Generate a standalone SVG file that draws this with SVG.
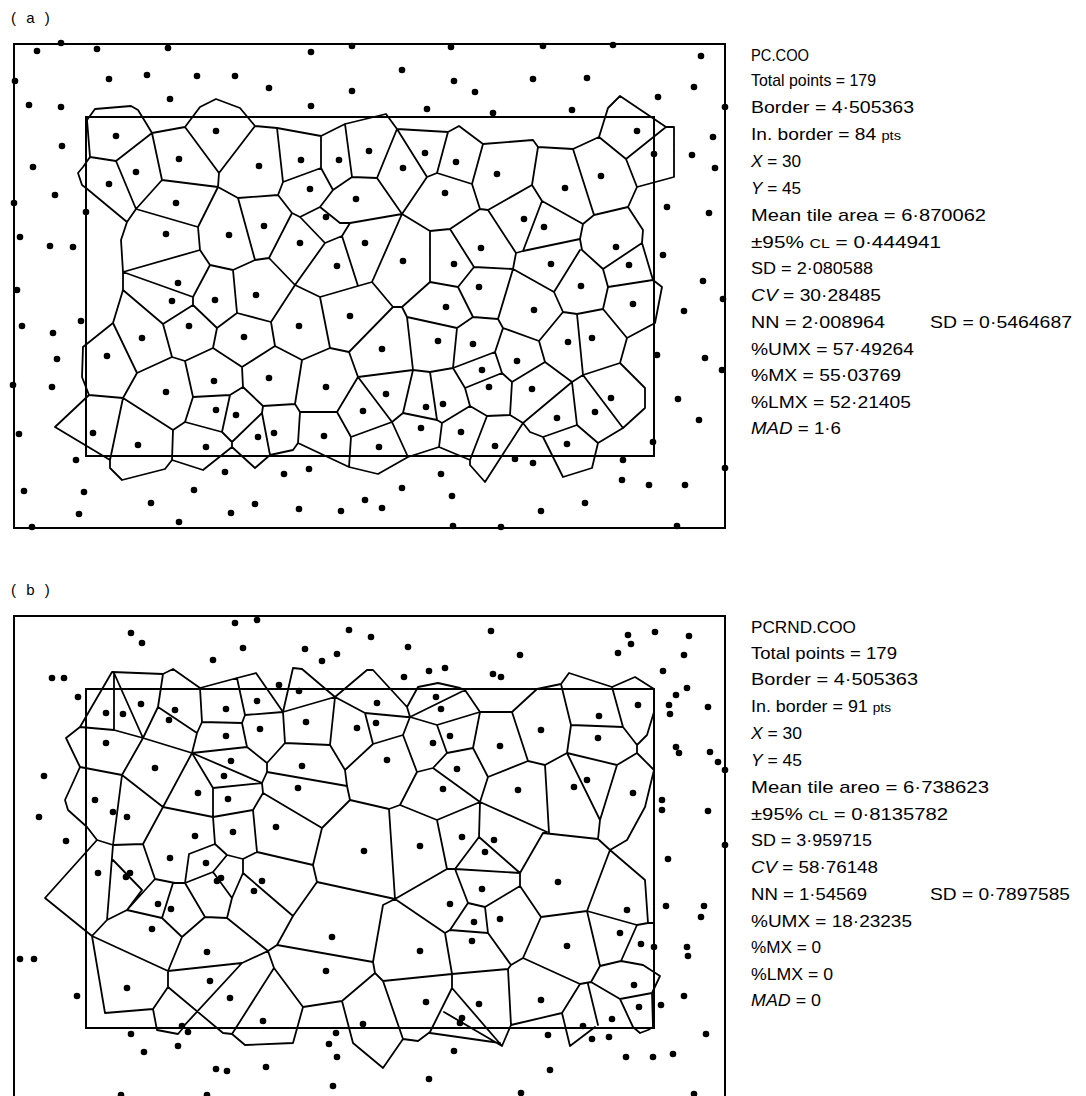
<svg xmlns="http://www.w3.org/2000/svg" width="1086" height="1096" viewBox="0 0 1086 1096">
<style>
.frame{fill:none;stroke:#000;stroke-width:2}
.edge{fill:none;stroke:#000;stroke-width:1.8;stroke-linejoin:round;stroke-linecap:round}
.p{fill:#000}
.t{font-family:"Liberation Sans",Arial,sans-serif;font-size:17px;fill:#000}
.i{font-style:italic}
.s{font-size:13px}
.lab{font-family:"Liberation Sans",Arial,sans-serif;font-size:15px;fill:#000}
</style>
<rect width="1086" height="1096" fill="#fff"/>

<g id="panel-a">
<text class="lab" x="11" y="23" letter-spacing="3">( a )</text>
<g id="a-frame">
<rect class="frame" x="14" y="44" width="711" height="484"/>
<rect class="frame" x="86" y="117" width="568" height="339"/>
</g>
<g id="a-tiles">
<path class="edge" d="M90,157 L87,120 L95,109 L131,106 L138,110 L146,123 L152,133 L185,127 L200,107 L216,99 L240,108 L255,126 L277,128 L321,136 L345,124 L386,114 L397,129 L448,132 L459,126 L483,144 L533,140 L538,147 L573,149 L599,137 L608,108 L620,96 L666,127 L674,127 L674,177 L637,187
M599,137 L626,159 L666,127
M626,159 L637,187 L628,207 L594,215 L573,149
M594,215 L583,224 L542,201 L532,185 L538,147
M532,185 L488,210 L480,209 L472,184 L483,144
M472,184 L437,173 L448,132
M437,173 L427,177 L397,129 L377,178 L402,214 L427,177
M402,214 L430,231 L450,229 L480,209
M450,229 L474,267 L513,269 L516,253 L488,210
M516,253 L523,251 L542,201
M523,251 L580,239 L583,224
M580,239 L582,250 L603,269 L642,243 L643,230 L628,207
M642,243 L653,280 L662,287 L655,323 L627,338 L603,309 L608,287 L653,280
M603,269 L608,287
M345,124 L352,177 L377,178
M352,177 L333,190 L321,168 L321,136
M333,190 L320,207 L300,217 L292,213
M320,207 L340,223 L350,223 L402,214
M350,223 L342,236 L325,243 L300,217
M342,236 L358,286 L372,282 L402,214
M372,282 L393,307 L349,352
M320,297 L358,286
M325,243 L295,285 L320,297 L330,348
M430,231 L430,282 L402,307 L393,307
M430,282 L458,287 L474,267
M458,287 L473,317 L457,328 L407,317 L402,307
M473,317 L498,319 L513,269
M513,269 L554,292 L580,250
M554,292 L563,312 L539,341 L503,328 L498,319
M563,312 L577,314 L603,309
M577,314 L583,375 L620,363 L627,338
M620,363 L645,388 L645,408 L623,428 L583,375
M583,375 L572,382 L545,362 L539,341
M545,362 L512,382 L502,373 L495,352 L503,328
M495,352 L453,368 L457,328
M502,373 L465,388 L453,368
M453,368 L430,372 L413,370 L407,317
M430,372 L437,420 L442,423 L470,406 L465,388
M470,406 L487,416 L510,415 L512,382
M510,415 L523,423 L572,382 L577,425 L543,437 L530,432 L523,423
M577,425 L598,443 L623,428
M598,443 L592,468 L563,477 L543,437
M523,423 L485,482 L470,465 L470,460 L487,416
M470,460 L439,447 L442,423
M437,420 L403,413 L413,370 L358,377 L349,352
M403,413 L392,422 L358,377 L337,412
M392,422 L351,437 L337,412
M392,422 L408,457 L439,447
M408,457 L378,474 L349,467 L351,437
M349,467 L298,443
M90,157 L116,161 L152,133 L162,180 L136,209 L116,161
M185,127 L219,173 L255,126
M219,173 L218,187 L162,180
M218,187 L238,198 L278,195 L283,182 L321,168
M277,128 L283,182
M278,195 L292,213 L269,258 L255,260 L238,198
M218,187 L198,227 L136,209 L127,222 L86,188
M90,157 L83,167 L78,173 L82,185 L86,188
M198,227 L200,250 L210,265 L233,270 L255,260
M269,258 L295,285
M127,222 L121,240 L123,272 L200,250
M123,272 L193,297 L210,265
M233,270 L237,313
M123,272 L123,290 L113,323 L83,347 L82,377 L89,395 L123,398 L137,373 L113,323
M123,290 L163,324 L193,305 L193,297
M193,305 L217,328 L237,313 L271,322 L295,285
M163,324 L172,357 L137,373
M172,357 L185,361 L213,348 L217,328
M213,348 L242,367 L275,346 L271,322
M275,346 L302,360 L330,348 L349,352
M302,360 L295,404 L263,406 L243,387 L242,367
M243,387 L230,395 L193,397 L185,361
M295,404 L300,412 L337,412
M300,412 L298,443 L293,450 L270,455 L262,413 L263,406
M230,395 L222,432 L185,422 L193,397
M222,432 L232,442 L262,413
M232,442 L232,447 L255,468 L270,455
M232,447 L203,470 L172,460 L173,430 L185,422
M173,430 L123,398 L110,460 L55,427 L89,395
M110,460 L110,468 L122,480 L165,469 L172,460"/>
</g>
<g id="a-points">
<circle class="p" r="3.3" cx="37" cy="51"/><circle class="p" r="3.3" cx="61" cy="43"/><circle class="p" r="3.3" cx="97" cy="49"/><circle class="p" r="3.3" cx="168" cy="48"/><circle class="p" r="3.3" cx="311" cy="52"/><circle class="p" r="3.3" cx="352" cy="46"/><circle class="p" r="3.3" cx="451" cy="47"/><circle class="p" r="3.3" cx="543" cy="46"/><circle class="p" r="3.3" cx="613" cy="45"/><circle class="p" r="3.3" cx="701" cy="56"/>
<circle class="p" r="3.3" cx="15" cy="81"/><circle class="p" r="3.3" cx="109" cy="79"/><circle class="p" r="3.3" cx="147" cy="75"/><circle class="p" r="3.3" cx="197" cy="76"/><circle class="p" r="3.3" cx="235" cy="76"/><circle class="p" r="3.3" cx="269" cy="88"/><circle class="p" r="3.3" cx="352" cy="91"/><circle class="p" r="3.3" cx="402" cy="70"/><circle class="p" r="3.3" cx="454" cy="81"/><circle class="p" r="3.3" cx="533" cy="79"/><circle class="p" r="3.3" cx="587" cy="78"/><circle class="p" r="3.3" cx="475" cy="92"/><circle class="p" r="3.3" cx="694" cy="87"/>
<circle class="p" r="3.3" cx="29" cy="105"/><circle class="p" r="3.3" cx="61" cy="107"/><circle class="p" r="3.3" cx="170" cy="99"/><circle class="p" r="3.3" cx="311" cy="106"/><circle class="p" r="3.3" cx="427" cy="109"/><circle class="p" r="3.3" cx="493" cy="113"/><circle class="p" r="3.3" cx="572" cy="110"/><circle class="p" r="3.3" cx="658" cy="97"/><circle class="p" r="3.3" cx="725" cy="107"/>
<circle class="p" r="3.3" cx="62" cy="146"/><circle class="p" r="3.3" cx="33" cy="167"/><circle class="p" r="3.3" cx="55" cy="195"/><circle class="p" r="3.3" cx="14" cy="203"/><circle class="p" r="3.3" cx="86" cy="212"/><circle class="p" r="3.3" cx="20" cy="237"/><circle class="p" r="3.3" cx="50" cy="246"/><circle class="p" r="3.3" cx="73" cy="247"/>
<circle class="p" r="3.3" cx="692" cy="155"/><circle class="p" r="3.3" cx="713" cy="137"/><circle class="p" r="3.3" cx="715" cy="168"/><circle class="p" r="3.3" cx="667" cy="207"/><circle class="p" r="3.3" cx="709" cy="213"/><circle class="p" r="3.3" cx="663" cy="255"/><circle class="p" r="3.3" cx="703" cy="281"/><circle class="p" r="3.3" cx="723" cy="299"/><circle class="p" r="3.3" cx="722" cy="370"/><circle class="p" r="3.3" cx="725" cy="468"/>
<circle class="p" r="3.3" cx="17" cy="290"/><circle class="p" r="3.3" cx="22" cy="326"/><circle class="p" r="3.3" cx="53" cy="333"/><circle class="p" r="3.3" cx="81" cy="321"/><circle class="p" r="3.3" cx="57" cy="359"/><circle class="p" r="3.3" cx="13" cy="385"/><circle class="p" r="3.3" cx="52" cy="387"/><circle class="p" r="3.3" cx="19" cy="434"/><circle class="p" r="3.3" cx="76" cy="460"/><circle class="p" r="3.3" cx="24" cy="491"/><circle class="p" r="3.3" cx="84" cy="492"/><circle class="p" r="3.3" cx="79" cy="514"/><circle class="p" r="3.3" cx="32" cy="527"/><circle class="p" r="3.3" cx="151" cy="503"/><circle class="p" r="3.3" cx="179" cy="522"/><circle class="p" r="3.3" cx="194" cy="490"/><circle class="p" r="3.3" cx="225" cy="472"/><circle class="p" r="3.3" cx="231" cy="513"/><circle class="p" r="3.3" cx="255" cy="504"/><circle class="p" r="3.3" cx="284" cy="474"/><circle class="p" r="3.3" cx="309" cy="469"/><circle class="p" r="3.3" cx="299" cy="509"/><circle class="p" r="3.3" cx="341" cy="511"/>
<circle class="p" r="3.3" cx="684" cy="311"/><circle class="p" r="3.3" cx="705" cy="358"/><circle class="p" r="3.3" cx="657" cy="355"/><circle class="p" r="3.3" cx="678" cy="399"/><circle class="p" r="3.3" cx="699" cy="420"/><circle class="p" r="3.3" cx="653" cy="442"/><circle class="p" r="3.3" cx="515" cy="459"/><circle class="p" r="3.3" cx="533" cy="463"/><circle class="p" r="3.3" cx="623" cy="460"/><circle class="p" r="3.3" cx="441" cy="474"/><circle class="p" r="3.3" cx="402" cy="488"/><circle class="p" r="3.3" cx="365" cy="500"/><circle class="p" r="3.3" cx="382" cy="508"/><circle class="p" r="3.3" cx="452" cy="496"/><circle class="p" r="3.3" cx="622" cy="480"/><circle class="p" r="3.3" cx="649" cy="485"/><circle class="p" r="3.3" cx="685" cy="485"/><circle class="p" r="3.3" cx="585" cy="503"/><circle class="p" r="3.3" cx="541" cy="511"/><circle class="p" r="3.3" cx="453" cy="526"/><circle class="p" r="3.3" cx="501" cy="527"/><circle class="p" r="3.3" cx="677" cy="526"/>
<circle class="p" r="3.3" cx="116" cy="136"/><circle class="p" r="3.3" cx="216" cy="131"/><circle class="p" r="3.3" cx="179" cy="159"/><circle class="p" r="3.3" cx="136" cy="172"/><circle class="p" r="3.3" cx="259" cy="166"/><circle class="p" r="3.3" cx="301" cy="160"/><circle class="p" r="3.3" cx="339" cy="160"/><circle class="p" r="3.3" cx="109" cy="184"/><circle class="p" r="3.3" cx="176" cy="203"/><circle class="p" r="3.3" cx="310" cy="189"/><circle class="p" r="3.3" cx="356" cy="199"/><circle class="p" r="3.3" cx="326" cy="217"/><circle class="p" r="3.3" cx="264" cy="226"/><circle class="p" r="3.3" cx="229" cy="235"/><circle class="p" r="3.3" cx="166" cy="234"/><circle class="p" r="3.3" cx="300" cy="243"/><circle class="p" r="3.3" cx="337" cy="266"/><circle class="p" r="3.3" cx="178" cy="283"/>
<circle class="p" r="3.3" cx="369" cy="151"/><circle class="p" r="3.3" cx="425" cy="153"/><circle class="p" r="3.3" cx="456" cy="162"/><circle class="p" r="3.3" cx="497" cy="174"/><circle class="p" r="3.3" cx="403" cy="168"/><circle class="p" r="3.3" cx="445" cy="193"/><circle class="p" r="3.3" cx="565" cy="188"/><circle class="p" r="3.3" cx="601" cy="176"/><circle class="p" r="3.3" cx="637" cy="131"/><circle class="p" r="3.3" cx="654" cy="154"/><circle class="p" r="3.3" cx="524" cy="219"/><circle class="p" r="3.3" cx="544" cy="227"/><circle class="p" r="3.3" cx="365" cy="243"/><circle class="p" r="3.3" cx="403" cy="261"/><circle class="p" r="3.3" cx="454" cy="264"/><circle class="p" r="3.3" cx="481" cy="248"/><circle class="p" r="3.3" cx="551" cy="264"/><circle class="p" r="3.3" cx="616" cy="247"/><circle class="p" r="3.3" cx="629" cy="265"/><circle class="p" r="3.3" cx="479" cy="287"/><circle class="p" r="3.3" cx="581" cy="286"/>
<circle class="p" r="3.3" cx="172" cy="301"/><circle class="p" r="3.3" cx="215" cy="300"/><circle class="p" r="3.3" cx="256" cy="295"/><circle class="p" r="3.3" cx="350" cy="316"/><circle class="p" r="3.3" cx="189" cy="326"/><circle class="p" r="3.3" cx="299" cy="326"/><circle class="p" r="3.3" cx="142" cy="338"/><circle class="p" r="3.3" cx="244" cy="337"/><circle class="p" r="3.3" cx="107" cy="356"/><circle class="p" r="3.3" cx="214" cy="381"/><circle class="p" r="3.3" cx="269" cy="378"/><circle class="p" r="3.3" cx="326" cy="387"/><circle class="p" r="3.3" cx="166" cy="392"/><circle class="p" r="3.3" cx="216" cy="410"/><circle class="p" r="3.3" cx="236" cy="415"/><circle class="p" r="3.3" cx="93" cy="433"/><circle class="p" r="3.3" cx="138" cy="445"/><circle class="p" r="3.3" cx="206" cy="447"/><circle class="p" r="3.3" cx="258" cy="437"/><circle class="p" r="3.3" cx="274" cy="433"/><circle class="p" r="3.3" cx="324" cy="436"/>
<circle class="p" r="3.3" cx="446" cy="307"/><circle class="p" r="3.3" cx="534" cy="310"/><circle class="p" r="3.3" cx="633" cy="304"/><circle class="p" r="3.3" cx="382" cy="349"/><circle class="p" r="3.3" cx="438" cy="341"/><circle class="p" r="3.3" cx="473" cy="344"/><circle class="p" r="3.3" cx="568" cy="342"/><circle class="p" r="3.3" cx="592" cy="338"/><circle class="p" r="3.3" cx="517" cy="361"/><circle class="p" r="3.3" cx="482" cy="370"/><circle class="p" r="3.3" cx="489" cy="387"/><circle class="p" r="3.3" cx="532" cy="389"/><circle class="p" r="3.3" cx="611" cy="398"/><circle class="p" r="3.3" cx="386" cy="394"/><circle class="p" r="3.3" cx="426" cy="407"/><circle class="p" r="3.3" cx="443" cy="404"/><circle class="p" r="3.3" cx="363" cy="411"/><circle class="p" r="3.3" cx="557" cy="418"/><circle class="p" r="3.3" cx="595" cy="412"/><circle class="p" r="3.3" cx="421" cy="428"/><circle class="p" r="3.3" cx="461" cy="432"/><circle class="p" r="3.3" cx="567" cy="444"/><circle class="p" r="3.3" cx="379" cy="447"/><circle class="p" r="3.3" cx="495" cy="446"/>
</g>
<g id="a-stats" class="t">
<text x="751" y="61" textLength="58" lengthAdjust="spacingAndGlyphs">PC.COO</text>
<text x="751" y="86" textLength="125" lengthAdjust="spacingAndGlyphs">Total points = 179</text>
<text x="751" y="113" textLength="163" lengthAdjust="spacingAndGlyphs">Border = 4·505363</text>
<text x="751" y="140" textLength="150" lengthAdjust="spacingAndGlyphs">In. border = 84 <tspan class="s">pts</tspan></text>
<text x="751" y="167" textLength="50" lengthAdjust="spacingAndGlyphs"><tspan class="i">X</tspan> = 30</text>
<text x="751" y="194" textLength="50" lengthAdjust="spacingAndGlyphs"><tspan class="i">Y</tspan> = 45</text>
<text x="751" y="221" textLength="235" lengthAdjust="spacingAndGlyphs">Mean tile area  =  6·870062</text>
<text x="751" y="248" textLength="190" lengthAdjust="spacingAndGlyphs">±95% <tspan class="s">CL</tspan> = 0·444941</text>
<text x="751" y="274" textLength="122" lengthAdjust="spacingAndGlyphs">SD = 2·080588</text>
<text x="751" y="301" textLength="130" lengthAdjust="spacingAndGlyphs"><tspan class="i">CV</tspan> = 30·28485</text>
<text x="751" y="328" textLength="134" lengthAdjust="spacingAndGlyphs">NN = 2·008964</text>
<text x="930" y="328" textLength="142" lengthAdjust="spacingAndGlyphs">SD = 0·5464687</text>
<text x="751" y="355" textLength="163" lengthAdjust="spacingAndGlyphs">%UMX = 57·49264</text>
<text x="751" y="381" textLength="150" lengthAdjust="spacingAndGlyphs">%MX = 55·03769</text>
<text x="751" y="408" textLength="160" lengthAdjust="spacingAndGlyphs">%LMX = 52·21405</text>
<text x="751" y="434" textLength="90" lengthAdjust="spacingAndGlyphs"><tspan class="i">MAD</tspan> = 1·6</text>
</g>
</g>

<g id="panel-b">
<text class="lab" x="11" y="595" letter-spacing="3">( b )</text>
<g id="b-frame">
<rect class="frame" x="14" y="616" width="711" height="484"/>
<rect class="frame" x="86" y="689" width="568" height="339"/>
</g>
<g id="b-tiles">
<path class="edge" d="M80,727 L112,672 L163,674 L173,669 L200,688 L237,678 L256,673 L283,712 L293,668 L302,669 L335,697 L367,670 L373,670 L407,707 L418,687 L438,683 L460,688 L465,690 L480,712 L512,712 L537,689 L561,684 L569,673 L612,687 L635,677 L654,689
M114,673 L114,730
M114,673 L143,738
M80,727 L114,730 L143,738
M163,674 L158,707 L143,738
M158,707 L197,733 L202,722 L200,688
M143,738 L192,753 L197,733
M202,722 L242,723 L245,715 L237,678
M245,715 L283,712 L335,697
M242,723 L247,747 L192,753
M247,747 L267,763 L285,743 L283,712
M285,743 L330,745 L335,697
M330,745 L345,770 L373,744 L365,713 L335,697
M345,770 L347,786 L350,800
M267,763 L267,772 L347,786
M192,753 L262,783 L267,772
M192,753 L213,788 L262,783 L263,793 L322,828 L350,800 L389,809
M263,793 L253,810 L213,817 L213,788
M192,753 L163,807 L213,817
M143,738 L122,775 L163,807
M122,775 L80,767 L66,738 L80,727
M80,767 L65,800 L68,810 L87,827 L97,840
M122,775 L113,845
M163,807 L143,844
M213,817 L215,844
M253,810 L257,852
M322,828 L313,865
M365,713 L407,717 L410,717 L465,690
M407,707 L410,717 L437,725 L480,712
M410,717 L403,735 L373,744
M437,725 L447,753 L473,748 L480,712
M473,748 L488,777 L528,761 L512,712
M528,761 L545,765 L567,753 L571,725 L561,684
M571,725 L623,727 L612,687
M623,727 L637,745 L647,735 L654,712
M637,745 L637,753 L654,770
M637,753 L617,765 L567,753
M617,765 L600,820 L567,753
M600,820 L598,839
M654,770 L645,807 L627,840 L610,850
M545,765 L549,833
M447,753 L433,768 L417,772 L403,735
M433,768 L480,802 L488,777
M417,772 L400,805 L389,809 L395,899
M400,805 L437,820 L480,802 L547,832
M437,820 L447,869
M480,802 L479,837
M97,840 L113,845 L143,844 L155,879 L175,883 L185,883 L189,854 L215,844 L227,855 L243,859 L257,852 L313,865 L317,882 L293,916 L243,873 L243,859
M97,840 L45,898 L92,936 L107,920 L113,845
M107,920 L127,910 L155,879
M127,910 L142,890 L113,860
M127,910 L162,918 L173,883
M162,918 L182,937 L205,917 L185,883
M227,855 L213,872 L185,883
M213,872 L232,898 L243,873
M232,898 L227,918 L205,917
M227,918 L268,951 L277,945 L293,916
M277,945 L373,962
M317,882 L395,899
M268,951 L274,968 L303,1007 L342,1001 L375,973
M342,1001 L353,1043 L383,1068 L403,1039
M303,1007 L293,1043 L245,1045 L232,1034 L274,968
M268,951 L242,963 L168,971 L182,937
M242,963 L182,1028
M232,1034 L223,1033 L168,987 L168,971
M168,971 L92,936
M168,987 L153,1009 L105,1013 L92,936
M153,1009 L157,1030 L178,1034 L183,1028
M395,899 L447,869 L455,869 L479,837 L520,873 L543,833 L547,832
M543,833 L598,839 L610,850 L627,840
M455,869 L520,873 L520,886 L485,907 L468,903 L455,869
M468,903 L450,930 L445,933 L395,899 L383,905 L373,962 L375,973 L383,981 L452,974 L445,933
M450,930 L488,933 L485,907
M488,933 L511,965 L523,958 L541,917 L520,886
M541,917 L587,911 L610,850
M610,850 L645,880 L648,923 L637,925 L587,911 L600,966 L621,961 L637,925
M621,961 L643,965 L660,976 L652,993 L620,999 L591,982 L600,966
M591,982 L580,984 L523,958
M511,965 L508,969 L452,974
M508,969 L511,1025 L562,1013 L580,984
M562,1013 L570,1046 L595,1027
M588,984 L598,1025
M620,999 L633,1027 L640,1033 L648,1030 L653,1027 L652,993
M383,981 L403,1039 L418,1041 L430,1032 L452,988 L452,974
M452,988 L502,1046 L511,1025
M430,1033 L500,1043
M444,1012 L502,1046
M648,923 L654,923"/>
</g>
<g id="b-points">
<circle class="p" r="3.3" cx="131" cy="633"/><circle class="p" r="3.3" cx="142" cy="643"/><circle class="p" r="3.3" cx="235" cy="623"/><circle class="p" r="3.3" cx="257" cy="620"/><circle class="p" r="3.3" cx="243" cy="648"/><circle class="p" r="3.3" cx="213" cy="660"/><circle class="p" r="3.3" cx="305" cy="649"/><circle class="p" r="3.3" cx="322" cy="661"/><circle class="p" r="3.3" cx="337" cy="654"/><circle class="p" r="3.3" cx="349" cy="630"/><circle class="p" r="3.3" cx="52" cy="678"/><circle class="p" r="3.3" cx="64" cy="678"/><circle class="p" r="3.3" cx="279" cy="685"/><circle class="p" r="3.3" cx="299" cy="691"/><circle class="p" r="3.3" cx="78" cy="697"/><circle class="p" r="3.3" cx="44" cy="776"/><circle class="p" r="3.3" cx="39" cy="817"/><circle class="p" r="3.3" cx="66" cy="841"/>
<circle class="p" r="3.3" cx="371" cy="637"/><circle class="p" r="3.3" cx="408" cy="647"/><circle class="p" r="3.3" cx="491" cy="631"/><circle class="p" r="3.3" cx="520" cy="655"/><circle class="p" r="3.3" cx="628" cy="635"/><circle class="p" r="3.3" cx="631" cy="644"/><circle class="p" r="3.3" cx="655" cy="632"/><circle class="p" r="3.3" cx="689" cy="636"/><circle class="p" r="3.3" cx="618" cy="653"/><circle class="p" r="3.3" cx="684" cy="655"/><circle class="p" r="3.3" cx="404" cy="677"/><circle class="p" r="3.3" cx="429" cy="671"/><circle class="p" r="3.3" cx="445" cy="668"/><circle class="p" r="3.3" cx="493" cy="674"/><circle class="p" r="3.3" cx="501" cy="677"/><circle class="p" r="3.3" cx="663" cy="671"/><circle class="p" r="3.3" cx="687" cy="688"/><circle class="p" r="3.3" cx="676" cy="695"/><circle class="p" r="3.3" cx="669" cy="705"/><circle class="p" r="3.3" cx="670" cy="714"/><circle class="p" r="3.3" cx="708" cy="707"/><circle class="p" r="3.3" cx="676" cy="747"/><circle class="p" r="3.3" cx="679" cy="753"/><circle class="p" r="3.3" cx="710" cy="752"/><circle class="p" r="3.3" cx="718" cy="762"/><circle class="p" r="3.3" cx="725" cy="770"/><circle class="p" r="3.3" cx="662" cy="800"/><circle class="p" r="3.3" cx="662" cy="810"/><circle class="p" r="3.3" cx="708" cy="811"/><circle class="p" r="3.3" cx="725" cy="845"/>
<circle class="p" r="3.3" cx="20" cy="959"/><circle class="p" r="3.3" cx="34" cy="959"/><circle class="p" r="3.3" cx="77" cy="996"/><circle class="p" r="3.3" cx="131" cy="1034"/><circle class="p" r="3.3" cx="144" cy="1052"/><circle class="p" r="3.3" cx="178" cy="1046"/><circle class="p" r="3.3" cx="216" cy="1069"/><circle class="p" r="3.3" cx="227" cy="1071"/><circle class="p" r="3.3" cx="266" cy="1067"/><circle class="p" r="3.3" cx="336" cy="1033"/><circle class="p" r="3.3" cx="329" cy="1044"/><circle class="p" r="3.3" cx="337" cy="1057"/><circle class="p" r="3.3" cx="333" cy="1086"/><circle class="p" r="3.3" cx="121" cy="1095"/><circle class="p" r="3.3" cx="207" cy="1095"/><circle class="p" r="3.3" cx="182" cy="1026"/><circle class="p" r="3.3" cx="188" cy="1032"/>
<circle class="p" r="3.3" cx="668" cy="859"/><circle class="p" r="3.3" cx="666" cy="906"/><circle class="p" r="3.3" cx="704" cy="906"/><circle class="p" r="3.3" cx="701" cy="917"/><circle class="p" r="3.3" cx="687" cy="947"/><circle class="p" r="3.3" cx="688" cy="956"/><circle class="p" r="3.3" cx="654" cy="947"/><circle class="p" r="3.3" cx="684" cy="996"/><circle class="p" r="3.3" cx="661" cy="1005"/><circle class="p" r="3.3" cx="706" cy="1034"/><circle class="p" r="3.3" cx="548" cy="1035"/><circle class="p" r="3.3" cx="592" cy="1039"/><circle class="p" r="3.3" cx="609" cy="1037"/><circle class="p" r="3.3" cx="583" cy="1026"/><circle class="p" r="3.3" cx="626" cy="1057"/><circle class="p" r="3.3" cx="653" cy="1057"/><circle class="p" r="3.3" cx="673" cy="1054"/><circle class="p" r="3.3" cx="550" cy="1070"/><circle class="p" r="3.3" cx="454" cy="1051"/><circle class="p" r="3.3" cx="429" cy="1079"/><circle class="p" r="3.3" cx="521" cy="1093"/><circle class="p" r="3.3" cx="694" cy="1094"/>
<circle class="p" r="3.3" cx="106" cy="713"/><circle class="p" r="3.3" cx="123" cy="714"/><circle class="p" r="3.3" cx="141" cy="704"/><circle class="p" r="3.3" cx="175" cy="710"/><circle class="p" r="3.3" cx="169" cy="720"/><circle class="p" r="3.3" cx="226" cy="709"/><circle class="p" r="3.3" cx="257" cy="701"/><circle class="p" r="3.3" cx="306" cy="722"/><circle class="p" r="3.3" cx="357" cy="728"/><circle class="p" r="3.3" cx="106" cy="743"/><circle class="p" r="3.3" cx="260" cy="729"/><circle class="p" r="3.3" cx="226" cy="736"/><circle class="p" r="3.3" cx="155" cy="768"/><circle class="p" r="3.3" cx="231" cy="761"/><circle class="p" r="3.3" cx="302" cy="766"/><circle class="p" r="3.3" cx="224" cy="776"/><circle class="p" r="3.3" cx="298" cy="788"/><circle class="p" r="3.3" cx="198" cy="793"/><circle class="p" r="3.3" cx="95" cy="800"/><circle class="p" r="3.3" cx="228" cy="799"/><circle class="p" r="3.3" cx="113" cy="812"/><circle class="p" r="3.3" cx="127" cy="817"/><circle class="p" r="3.3" cx="195" cy="836"/><circle class="p" r="3.3" cx="233" cy="832"/><circle class="p" r="3.3" cx="276" cy="827"/>
<circle class="p" r="3.3" cx="377" cy="703"/><circle class="p" r="3.3" cx="436" cy="697"/><circle class="p" r="3.3" cx="441" cy="709"/><circle class="p" r="3.3" cx="376" cy="723"/><circle class="p" r="3.3" cx="450" cy="736"/><circle class="p" r="3.3" cx="433" cy="743"/><circle class="p" r="3.3" cx="500" cy="746"/><circle class="p" r="3.3" cx="541" cy="730"/><circle class="p" r="3.3" cx="599" cy="716"/><circle class="p" r="3.3" cx="638" cy="705"/><circle class="p" r="3.3" cx="598" cy="738"/><circle class="p" r="3.3" cx="387" cy="760"/><circle class="p" r="3.3" cx="457" cy="769"/><circle class="p" r="3.3" cx="443" cy="789"/><circle class="p" r="3.3" cx="518" cy="790"/><circle class="p" r="3.3" cx="574" cy="787"/><circle class="p" r="3.3" cx="587" cy="780"/><circle class="p" r="3.3" cx="633" cy="793"/><circle class="p" r="3.3" cx="462" cy="837"/><circle class="p" r="3.3" cx="494" cy="840"/>
<circle class="p" r="3.3" cx="170" cy="858"/><circle class="p" r="3.3" cx="206" cy="863"/><circle class="p" r="3.3" cx="98" cy="873"/><circle class="p" r="3.3" cx="126" cy="877"/><circle class="p" r="3.3" cx="130" cy="873"/><circle class="p" r="3.3" cx="217" cy="881"/><circle class="p" r="3.3" cx="221" cy="878"/><circle class="p" r="3.3" cx="262" cy="881"/><circle class="p" r="3.3" cx="254" cy="891"/><circle class="p" r="3.3" cx="158" cy="904"/><circle class="p" r="3.3" cx="171" cy="909"/><circle class="p" r="3.3" cx="152" cy="929"/><circle class="p" r="3.3" cx="332" cy="937"/><circle class="p" r="3.3" cx="207" cy="952"/><circle class="p" r="3.3" cx="326" cy="971"/><circle class="p" r="3.3" cx="210" cy="981"/><circle class="p" r="3.3" cx="230" cy="998"/><circle class="p" r="3.3" cx="127" cy="988"/><circle class="p" r="3.3" cx="263" cy="1021"/>
<circle class="p" r="3.3" cx="420" cy="846"/><circle class="p" r="3.3" cx="364" cy="851"/><circle class="p" r="3.3" cx="485" cy="852"/><circle class="p" r="3.3" cx="558" cy="882"/><circle class="p" r="3.3" cx="482" cy="889"/><circle class="p" r="3.3" cx="450" cy="904"/><circle class="p" r="3.3" cx="627" cy="910"/><circle class="p" r="3.3" cx="500" cy="919"/><circle class="p" r="3.3" cx="474" cy="922"/><circle class="p" r="3.3" cx="620" cy="933"/><circle class="p" r="3.3" cx="641" cy="944"/><circle class="p" r="3.3" cx="472" cy="941"/><circle class="p" r="3.3" cx="567" cy="946"/><circle class="p" r="3.3" cx="420" cy="951"/><circle class="p" r="3.3" cx="634" cy="985"/><circle class="p" r="3.3" cx="639" cy="1007"/><circle class="p" r="3.3" cx="541" cy="1000"/><circle class="p" r="3.3" cx="426" cy="1002"/><circle class="p" r="3.3" cx="479" cy="1004"/><circle class="p" r="3.3" cx="612" cy="1019"/><circle class="p" r="3.3" cx="363" cy="1024"/><circle class="p" r="3.3" cx="462" cy="1018"/><circle class="p" r="3.3" cx="460" cy="1023"/>
</g>
<g id="b-stats" class="t">
<text x="751" y="633" textLength="105" lengthAdjust="spacingAndGlyphs">PCRND.COO</text>
<text x="751" y="659" textLength="146" lengthAdjust="spacingAndGlyphs">Total points = 179</text>
<text x="751" y="685" textLength="167" lengthAdjust="spacingAndGlyphs">Border = 4·505363</text>
<text x="751" y="712" textLength="140" lengthAdjust="spacingAndGlyphs">In. border = 91 <tspan class="s">pts</tspan></text>
<text x="751" y="739" textLength="51" lengthAdjust="spacingAndGlyphs"><tspan class="i">X</tspan> = 30</text>
<text x="751" y="766" textLength="51" lengthAdjust="spacingAndGlyphs"><tspan class="i">Y</tspan> = 45</text>
<text x="751" y="793" textLength="238" lengthAdjust="spacingAndGlyphs">Mean tile areo  =  6·738623</text>
<text x="751" y="820" textLength="197" lengthAdjust="spacingAndGlyphs">±95% <tspan class="s">CL</tspan> = 0·8135782</text>
<text x="751" y="846" textLength="121" lengthAdjust="spacingAndGlyphs">SD = 3·959715</text>
<text x="751" y="873" textLength="127" lengthAdjust="spacingAndGlyphs"><tspan class="i">CV</tspan> = 58·76148</text>
<text x="751" y="900" textLength="116" lengthAdjust="spacingAndGlyphs">NN = 1·54569</text>
<text x="930" y="900" textLength="140" lengthAdjust="spacingAndGlyphs">SD = 0·7897585</text>
<text x="751" y="927" textLength="161" lengthAdjust="spacingAndGlyphs">%UMX = 18·23235</text>
<text x="751" y="953" textLength="70" lengthAdjust="spacingAndGlyphs">%MX = 0</text>
<text x="751" y="980" textLength="82" lengthAdjust="spacingAndGlyphs">%LMX = 0</text>
<text x="751" y="1006" textLength="70" lengthAdjust="spacingAndGlyphs"><tspan class="i">MAD</tspan> = 0</text>
</g>
</g>
</svg>
